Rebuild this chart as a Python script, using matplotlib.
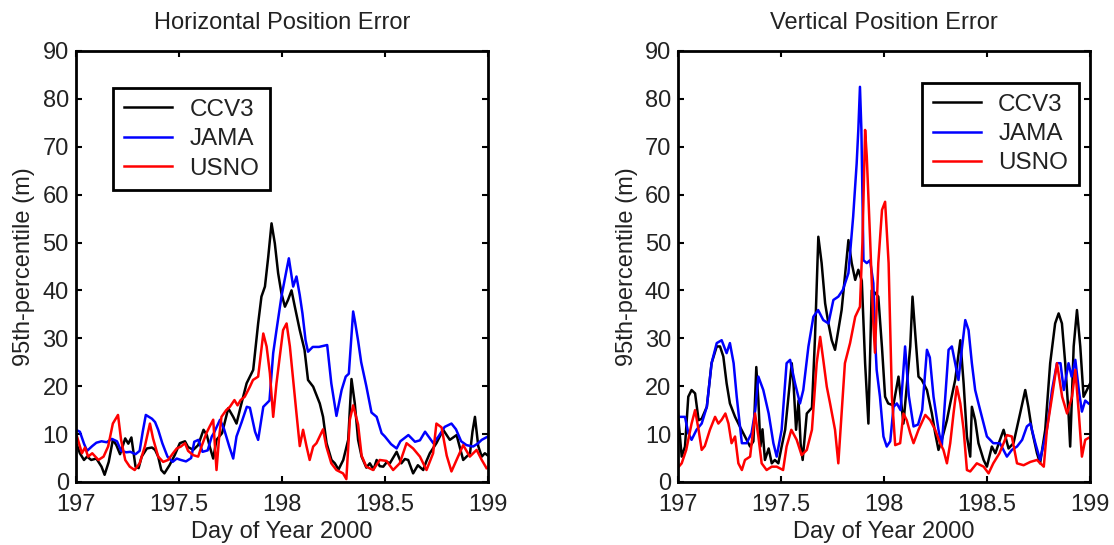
import matplotlib
matplotlib.use("Agg")
import matplotlib.pyplot as plt

plt.rcParams['font.family'] = ['Liberation Sans', 'DejaVu Sans']

# ---- Horizontal position error (left panel) ----
h_ccv3_day = [197.006, 197.02, 197.04, 197.055, 197.075, 197.10, 197.125, 197.14, 197.16, 197.18,
              197.197, 197.215, 197.24, 197.255, 197.27, 197.29, 197.305, 197.32, 197.345, 197.37,
              197.385, 197.40, 197.415, 197.43, 197.455, 197.48, 197.505, 197.53, 197.545, 197.57,
              197.594, 197.62, 197.636, 197.65, 197.667, 197.683, 197.71, 197.74, 197.764, 197.78,
              197.80, 197.829, 197.861, 197.885, 197.901, 197.918, 197.934, 197.95, 197.966, 197.982,
              197.998, 198.015, 198.03, 198.047, 198.063, 198.087, 198.11, 198.127, 198.152, 198.184,
              198.20, 198.217, 198.241, 198.257, 198.275, 198.298, 198.322, 198.338, 198.354, 198.37,
              198.387, 198.41, 198.427, 198.445, 198.46, 198.475, 198.492, 198.51, 198.524, 198.557,
              198.58, 198.597, 198.613, 198.637, 198.66, 198.686, 198.70, 198.718, 198.75, 198.783,
              198.815, 198.848, 198.865, 198.88, 198.913, 198.925, 198.937, 198.953, 198.97, 198.985,
              199.0]
h_ccv3 = [7.7, 6.0, 4.6, 5.3, 4.6, 4.9, 3.2, 1.5, 4.2, 8.8,
          7.7, 5.8, 9.1, 8.0, 9.3, 3.2, 2.9, 5.3, 7.0, 7.2,
          6.7, 5.3, 2.5, 1.8, 3.5, 5.6, 8.1, 8.5, 7.3, 6.7,
          7.7, 10.9, 9.8, 7.4, 4.9, 8.8, 10.2, 15.4, 13.6, 12.2,
          15.7, 20.6, 23.4, 33.1, 38.7, 40.8, 47.0, 54.0, 49.8, 43.6,
          39.4, 36.6, 38.0, 40.0, 36.6, 31.7, 27.6, 21.3, 19.9, 16.4,
          13.6, 8.1, 4.6, 3.9, 2.6, 4.6, 8.8, 21.5, 16.4, 8.8,
          5.3, 3.0, 3.9, 2.6, 4.6, 3.3, 3.2, 4.2, 3.9, 6.3,
          3.9, 4.8, 4.6, 1.8, 3.5, 2.5, 4.2, 6.0, 8.1, 10.9,
          8.8, 9.8, 7.0, 4.6, 6.0, 10.5, 13.6, 7.5, 5.3, 6.0,
          5.5]

h_jama_day = [197.0, 197.02, 197.04, 197.055, 197.08, 197.10, 197.125, 197.15, 197.175, 197.20,
              197.22, 197.245, 197.265, 197.29, 197.31, 197.325, 197.34, 197.37, 197.385, 197.40,
              197.42, 197.445, 197.47, 197.49, 197.51, 197.535, 197.56, 197.575, 197.595, 197.615,
              197.64, 197.66, 197.67, 197.70, 197.72, 197.745, 197.764, 197.78, 197.805, 197.83,
              197.845, 197.87, 197.885, 197.91, 197.94, 197.958, 197.974, 197.998, 198.023, 198.034,
              198.055, 198.071, 198.087, 198.10, 198.115, 198.127, 198.15, 198.18, 198.21, 198.22,
              198.24, 198.265, 198.29, 198.31, 198.325, 198.346, 198.355, 198.37, 198.385, 198.41,
              198.435, 198.46, 198.484, 198.50, 198.53, 198.557, 198.575, 198.614, 198.646, 198.67,
              198.695, 198.735, 198.76, 198.79, 198.823, 198.845, 198.87, 198.896, 198.928, 198.95,
              198.97, 199.0]
h_jama = [10.9, 10.5, 8.0, 6.5, 7.5, 8.2, 8.5, 8.3, 9.0, 8.5,
          6.5, 6.2, 6.3, 5.8, 6.5, 10.5, 14.0, 13.2, 12.5, 10.9,
          8.1, 5.3, 4.2, 4.9, 4.6, 4.3, 5.0, 8.4, 8.8, 6.3,
          6.6, 9.5, 10.2, 13.0, 11.0, 7.4, 4.9, 9.5, 12.5, 15.7,
          15.5, 10.5, 8.8, 15.7, 17.0, 26.9, 31.7, 38.7, 44.3, 46.7,
          40.8, 42.9, 39.0, 35.2, 29.6, 27.2, 28.2, 28.2, 28.5, 28.6,
          20.6, 13.8, 19.2, 22.0, 22.6, 35.6, 33.5, 29.5, 25.0, 20.0,
          14.5, 13.6, 10.2, 9.5, 7.9, 7.0, 8.5, 9.8, 8.4, 8.7,
          10.5, 8.1, 9.5, 11.5, 12.2, 11.0, 8.5, 7.7, 7.4, 8.0,
          8.8, 9.5]

h_usno_day = [197.006, 197.03, 197.045, 197.06, 197.08, 197.11, 197.135, 197.157, 197.18, 197.205,
              197.22, 197.24, 197.262, 197.286, 197.31, 197.335, 197.36, 197.375, 197.40, 197.424,
              197.448, 197.472, 197.49, 197.51, 197.53, 197.545, 197.57, 197.594, 197.61, 197.634,
              197.65, 197.667, 197.683, 197.695, 197.707, 197.73, 197.748, 197.77, 197.785, 197.80,
              197.82, 197.845, 197.86, 197.885, 197.91, 197.926, 197.942, 197.958, 197.974, 197.99,
              198.006, 198.023, 198.039, 198.055, 198.071, 198.087, 198.103, 198.12, 198.135, 198.152,
              198.168, 198.20, 198.216, 198.24, 198.265, 198.297, 198.313, 198.33, 198.346, 198.37,
              198.387, 198.41, 198.443, 198.475, 198.508, 198.54, 198.572, 198.605, 198.637, 198.67,
              198.702, 198.734, 198.75, 198.775, 198.80, 198.823, 198.855, 198.88, 198.912, 198.945,
              198.97, 198.993]
h_usno = [9.5, 6.0, 7.2, 5.3, 6.0, 4.6, 5.3, 7.4, 12.2, 14.0,
          8.8, 4.6, 3.2, 2.5, 3.9, 7.4, 12.2, 9.1, 5.3, 4.2,
          4.6, 6.0, 7.0, 7.4, 8.1, 6.5, 5.6, 5.3, 7.4, 10.2,
          11.6, 13.0, 2.5, 9.0, 13.6, 15.0, 15.7, 17.1, 16.0, 17.1,
          17.8, 19.9, 21.3, 22.0, 31.0, 28.3, 22.7, 13.6, 20.6, 26.2,
          31.7, 33.1, 28.3, 21.3, 14.3, 7.5, 10.9, 7.4, 4.6, 7.4,
          8.1, 11.0, 7.4, 3.9, 2.5, 1.8, 0.6, 13.0, 16.0, 12.0,
          5.5, 3.2, 2.5, 4.6, 4.4, 2.5, 3.9, 8.1, 7.0, 5.3,
          2.5, 6.0, 12.2, 11.4, 5.5, 2.2, 5.3, 7.7, 5.3, 6.7,
          4.6, 2.9]

# ---- Vertical position error (right panel) ----
v_ccv3_day = [197.0, 197.018, 197.034, 197.05, 197.066, 197.083, 197.10, 197.115, 197.14, 197.163,
              197.188, 197.204, 197.22, 197.236, 197.252, 197.277, 197.30, 197.325, 197.35, 197.366,
              197.38, 197.39, 197.40, 197.41, 197.422, 197.44, 197.455, 197.47, 197.487, 197.503,
              197.52, 197.536, 197.552, 197.56, 197.573, 197.585, 197.595, 197.605, 197.625, 197.65,
              197.665, 197.681, 197.697, 197.714, 197.73, 197.746, 197.762, 197.778, 197.794, 197.81,
              197.827, 197.843, 197.86, 197.875, 197.892, 197.908, 197.924, 197.94, 197.956, 197.972,
              197.99, 198.005, 198.02, 198.045, 198.07, 198.094, 198.11, 198.127, 198.138, 198.15,
              198.167, 198.183, 198.208, 198.232, 198.248, 198.264, 198.28, 198.305, 198.321, 198.345,
              198.37, 198.386, 198.402, 198.418, 198.426, 198.442, 198.458, 198.483, 198.499, 198.523,
              198.54, 198.56, 198.58, 198.604, 198.628, 198.66, 198.685, 198.70, 198.717, 198.742,
              198.757, 198.782, 198.806, 198.83, 198.847, 198.863, 198.879, 198.895, 198.903, 198.92,
              198.936, 198.952, 198.968, 198.984, 199.0]
v_ccv3 = [14.3, 5.3, 7.4, 17.8, 19.2, 18.5, 12.9, 13.2, 15.7, 24.8,
          28.3, 28.3, 26.2, 20.6, 16.4, 13.6, 11.6, 9.5, 7.4, 8.5,
          24.0, 17.1, 7.4, 11.0, 4.6, 7.0, 3.9, 4.6, 3.9, 7.4,
          10.9, 17.8, 24.8, 21.0, 10.9, 17.0, 8.0, 4.6, 14.3, 15.5,
          30.3, 51.2, 45.7, 37.3, 33.1, 29.6, 27.6, 31.7, 35.9, 42.9,
          50.5, 45.7, 42.2, 44.3, 42.0, 24.8, 12.2, 40.0, 39.5, 38.7,
          28.0, 17.8, 16.4, 16.0, 22.0, 12.2, 20.0, 28.3, 38.7, 31.7,
          22.0, 21.3, 19.2, 14.3, 10.2, 6.7, 8.8, 12.9, 16.4, 21.3,
          29.6, 20.6, 9.5, 5.3, 15.7, 12.9, 8.1, 4.6, 3.2, 7.4,
          6.0, 8.5, 10.9, 7.0, 8.1, 14.3, 19.2, 15.7, 10.9, 6.0,
          3.9, 10.9, 24.8, 33.1, 35.2, 33.1, 24.8, 14.3, 7.4, 28.3,
          35.9, 28.3, 17.8, 19.2, 20.6]

v_jama_day = [197.0, 197.034, 197.05, 197.066, 197.09, 197.115, 197.14, 197.163, 197.188, 197.212,
              197.236, 197.252, 197.27, 197.285, 197.31, 197.333, 197.357, 197.375, 197.39, 197.414,
              197.44, 197.463, 197.479, 197.503, 197.527, 197.544, 197.568, 197.592, 197.608, 197.633,
              197.657, 197.68, 197.705, 197.73, 197.754, 197.778, 197.80, 197.827, 197.85, 197.867,
              197.875, 197.883, 197.89, 197.90, 197.916, 197.932, 197.948, 197.956, 197.964, 197.98,
              197.997, 198.013, 198.03, 198.046, 198.062, 198.08, 198.102, 198.12, 198.143, 198.165,
              198.185, 198.208, 198.222, 198.24, 198.264, 198.28, 198.297, 198.313, 198.329, 198.345,
              198.361, 198.378, 198.394, 198.41, 198.426, 198.442, 198.458, 198.483, 198.499, 198.53,
              198.562, 198.596, 198.62, 198.645, 198.67, 198.693, 198.71, 198.734, 198.757, 198.79,
              198.815, 198.839, 198.856, 198.872, 198.895, 198.91, 198.928, 198.945, 198.96, 198.976,
              198.992]
v_jama = [13.6, 13.6, 10.2, 8.8, 10.9, 12.2, 15.7, 24.8, 29.0, 29.6,
          26.9, 29.0, 24.8, 17.8, 8.1, 8.1, 10.2, 15.0, 22.0, 19.2,
          14.3, 8.1, 5.3, 10.9, 24.8, 25.5, 20.6, 16.4, 19.2, 28.3,
          34.5, 35.9, 33.8, 33.1, 38.0, 38.7, 40.1, 43.6, 55.4, 66.5,
          73.5, 82.5, 73.5, 46.3, 45.7, 46.3, 41.5, 30.3, 23.4, 17.8,
          9.5, 7.4, 8.5, 15.7, 16.4, 15.0, 28.3, 18.0, 11.6, 12.0,
          15.0, 27.6, 26.0, 17.8, 10.9, 7.4, 17.8, 27.6, 28.3, 24.8,
          21.3, 28.0, 33.8, 31.7, 24.8, 19.2, 16.4, 12.2, 9.5, 8.1,
          8.1, 5.3, 6.7, 7.4, 8.8, 11.6, 12.2, 8.1, 4.6, 10.9,
          19.2, 24.8, 24.8, 19.2, 24.8, 22.0, 25.5, 19.2, 14.7, 17.0,
          16.4]

v_usno_day = [197.0, 197.018, 197.04, 197.066, 197.083, 197.10, 197.115, 197.13, 197.155, 197.18,
              197.196, 197.212, 197.23, 197.245, 197.26, 197.277, 197.293, 197.31, 197.325, 197.35,
              197.374, 197.39, 197.406, 197.43, 197.455, 197.479, 197.51, 197.527, 197.55, 197.576,
              197.60, 197.625, 197.65, 197.673, 197.69, 197.705, 197.722, 197.738, 197.762, 197.778,
              197.795, 197.81, 197.835, 197.86, 197.883, 197.895, 197.908, 197.916, 197.932, 197.948,
              197.956, 197.972, 197.99, 198.005, 198.022, 198.038, 198.054, 198.078, 198.094, 198.11,
              198.127, 198.143, 198.167, 198.20, 198.224, 198.248, 198.272, 198.288, 198.305, 198.321,
              198.337, 198.353, 198.37, 198.386, 198.402, 198.418, 198.45, 198.483, 198.507, 198.53,
              198.56, 198.596, 198.62, 198.645, 198.677, 198.71, 198.742, 198.775, 198.79, 198.815,
              198.839, 198.864, 198.888, 198.912, 198.928, 198.945, 198.96, 198.976, 198.992]
v_usno = [3.0, 3.9, 6.7, 12.2, 15.0, 10.9, 6.7, 7.5, 10.9, 13.6,
          12.2, 13.0, 14.3, 12.2, 8.1, 9.5, 3.9, 2.5, 4.6, 5.3,
          14.3, 9.5, 3.9, 2.5, 3.2, 3.2, 2.5, 7.4, 10.9, 8.8,
          5.6, 6.7, 10.9, 24.8, 30.3, 25.5, 19.9, 16.4, 10.9, 3.9,
          15.0, 24.8, 29.0, 34.5, 36.6, 50.0, 73.5, 68.0, 51.0, 33.0,
          27.0, 45.7, 56.8, 58.5, 45.7, 17.8, 7.7, 8.1, 14.3, 12.9,
          10.2, 8.1, 10.9, 14.0, 12.9, 10.9, 8.1, 6.7, 3.9, 8.1,
          14.3, 19.9, 16.4, 10.9, 2.5, 2.2, 3.9, 3.2, 1.8, 3.9,
          6.0, 9.8, 9.5, 3.9, 3.5, 4.2, 4.6, 3.2, 10.9, 17.8,
          24.8, 17.8, 14.3, 17.8, 23.4, 14.3, 5.3, 8.8, 9.2]

series_names = ['CCV3', 'JAMA', 'USNO']
series_colors = ['black', 'blue', 'red']
xticks = [197, 197.5, 198, 198.5, 199]
xtick_labels = ['197', '197.5', '198', '198.5', '199']

txt = '#222222'
fs = 17

fig = plt.figure(figsize=(11.14, 5.45), dpi=100)
ax1 = fig.add_axes([0.068, 0.1156, 0.370, 0.791])
ax2 = fig.add_axes([0.6086, 0.1156, 0.370, 0.791])

panels = [
    (ax1, 'Horizontal Position Error',
     [(h_ccv3_day, h_ccv3), (h_jama_day, h_jama), (h_usno_day, h_usno)],
     'upper left', (0.09, 0.914)),
    (ax2, 'Vertical Position Error',
     [(v_ccv3_day, v_ccv3), (v_jama_day, v_jama), (v_usno_day, v_usno)],
     'upper right', (0.973, 0.926)),
]

for ax, title, data, loc, anchor in panels:
    for (d, v), name, c in zip(data, series_names, series_colors):
        ax.plot(d, v, color=c, lw=1.8, label=name)
    ax.set_xlim(197, 199)
    ax.set_ylim(0, 90)
    ax.set_xticks(xticks)
    ax.set_xticklabels(xtick_labels)
    ax.set_yticks(range(0, 91, 10))
    ax.tick_params(direction='in', top=True, right=True, length=4, width=1.5,
                   labelsize=fs, labelcolor=txt)
    ax.tick_params(axis='x', pad=9)
    ax.tick_params(axis='y', pad=5)
    for sp in ax.spines.values():
        sp.set_linewidth(2.0)
    ax.set_title(title, fontsize=fs, color=txt, pad=16)
    ax.set_xlabel('Day of Year 2000', fontsize=fs, color=txt, labelpad=3)
    ax.set_ylabel('95th-percentile (m)', fontsize=fs, color=txt, labelpad=5)
    leg = ax.legend(loc=loc, bbox_to_anchor=anchor, borderaxespad=0, fontsize=17.5,
                    fancybox=False, framealpha=1, edgecolor='black',
                    handlelength=2.0, handletextpad=0.7, labelspacing=0.3,
                    borderpad=0.45)
    leg.get_frame().set_linewidth(2.0)
    for t in leg.get_texts():
        t.set_color(txt)

fig.savefig('out.png', dpi=100)
